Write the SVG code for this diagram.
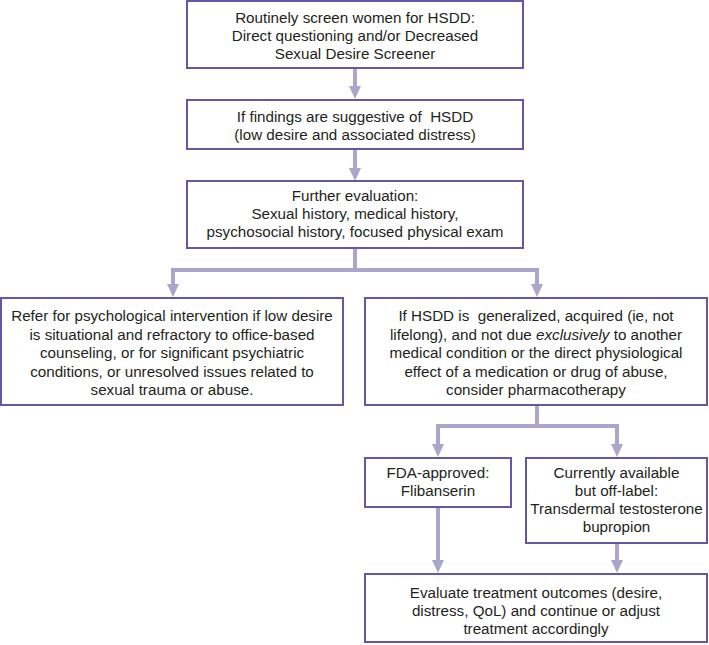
<svg xmlns="http://www.w3.org/2000/svg" width="709" height="645" viewBox="0 0 709 645">
<defs>
<style>
.box{fill:#fff;stroke:#6259a6;stroke-width:2}
.t{font-family:"Liberation Sans",Arial,sans-serif;font-size:15.2px;fill:#231f20;text-anchor:middle;white-space:pre}
.c{fill:none;stroke:#a9a5cc;stroke-width:4}
.a{fill:#a9a5cc}
</style>
</defs>
<rect width="709" height="645" fill="#fff"/>
<g id="connectors">
<line class="c" x1="355" y1="68" x2="355" y2="88"/>
<polygon class="a" points="349,86 361,86 355,99"/>
<line class="c" x1="355" y1="149" x2="355" y2="170"/>
<polygon class="a" points="349,168 361,168 355,181"/>
<polyline class="c" points="173,286 173,270 537,270 537,286"/>
<line class="c" x1="355" y1="248" x2="355" y2="270"/>
<polygon class="a" points="167,284 179,284 173,297"/>
<polygon class="a" points="531,284 543,284 537,297"/>
<polyline class="c" points="438,446 438,426 617,426 617,446"/>
<line class="c" x1="537" y1="405" x2="537" y2="426"/>
<polygon class="a" points="432,444 444,444 438,457"/>
<polygon class="a" points="611,444 623,444 617,457"/>
<line class="c" x1="438" y1="507" x2="438" y2="562"/>
<polygon class="a" points="432,560 444,560 438,573"/>
<line class="c" x1="617" y1="543" x2="617" y2="562"/>
<polygon class="a" points="611,560 623,560 617,573"/>
</g>
<g id="n1">
<rect class="box" x="187" y="1" width="336" height="67"/>
<text class="t" x="355" y="23">Routinely screen women for HSDD:</text>
<text class="t" x="355" y="41">Direct questioning and/or Decreased</text>
<text class="t" x="355" y="59">Sexual Desire Screener</text>
</g>
<g id="n2">
<rect class="box" x="187" y="100" width="336" height="49"/>
<text class="t" x="355" y="122">If findings are suggestive of  HSDD</text>
<text class="t" x="355" y="140">(low desire and associated distress)</text>
</g>
<g id="n3">
<rect class="box" x="187" y="181" width="336" height="67"/>
<text class="t" x="355" y="201">Further evaluation:</text>
<text class="t" x="355" y="219">Sexual history, medical history,</text>
<text class="t" x="355" y="237">psychosocial history, focused physical exam</text>
</g>
<g id="n4">
<rect class="box" x="1" y="298" width="342" height="107"/>
<text class="t" x="172" y="321">Refer for psychological intervention if low desire</text>
<text class="t" x="172" y="339.5">is situational and refractory to office-based</text>
<text class="t" x="172" y="358">counseling, or for significant psychiatric</text>
<text class="t" x="172" y="376.5">conditions, or unresolved issues related to</text>
<text class="t" x="172" y="395">sexual trauma or abuse.</text>
</g>
<g id="n5">
<rect class="box" x="365" y="298" width="342" height="107"/>
<text class="t" x="536" y="321">If HSDD is  generalized, acquired (ie, not</text>
<text class="t" x="536" y="339.5">lifelong), and not due <tspan font-style="italic">exclusively</tspan> to another</text>
<text class="t" x="536" y="358">medical condition or the direct physiological</text>
<text class="t" x="536" y="376.5">effect of a medication or drug of abuse,</text>
<text class="t" x="536" y="395">consider pharmacotherapy</text>
</g>
<g id="n6">
<rect class="box" x="365" y="458" width="146" height="49"/>
<text class="t" x="438" y="478">FDA-approved:</text>
<text class="t" x="438" y="496">Flibanserin</text>
</g>
<g id="n7">
<rect class="box" x="526" y="458" width="181" height="85"/>
<text class="t" x="616.5" y="478">Currently available</text>
<text class="t" x="616.5" y="496">but off-label:</text>
<text class="t" x="616.5" y="514">Transdermal testosterone</text>
<text class="t" x="616.5" y="532">bupropion</text>
</g>
<g id="n8">
<rect class="box" x="365" y="574" width="342" height="68"/>
<text class="t" x="536" y="598">Evaluate treatment outcomes (desire,</text>
<text class="t" x="536" y="616">distress, QoL) and continue or adjust</text>
<text class="t" x="536" y="634">treatment accordingly</text>
</g>
</svg>
